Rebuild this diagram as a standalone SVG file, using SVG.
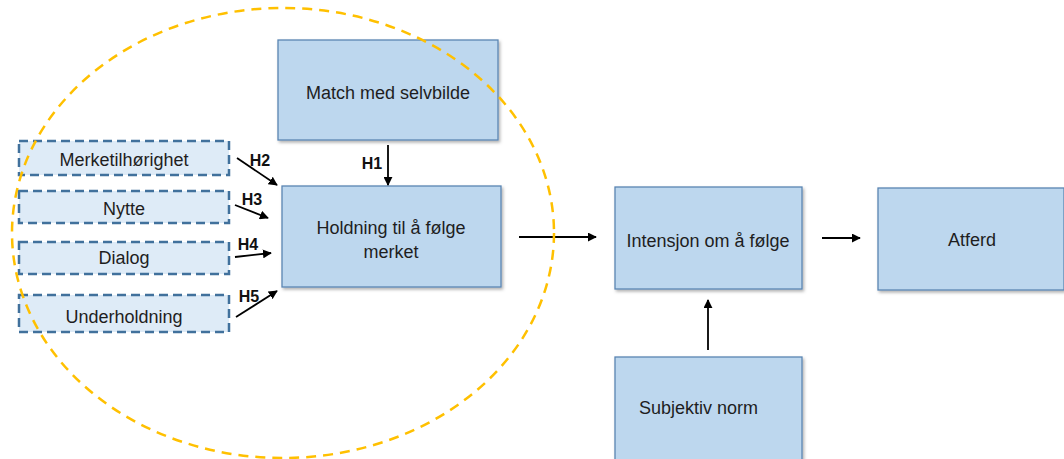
<svg xmlns="http://www.w3.org/2000/svg" width="1064" height="459" viewBox="0 0 1064 459">
<style>
.box{fill:#BDD7EE;stroke:#5B86B3;stroke-width:1.3}
.dbox{fill:#DEEBF7;stroke:#41719C;stroke-width:2.5;stroke-dasharray:9 5}
.t{font-family:"Liberation Sans",Arial,sans-serif;font-size:18px;fill:#1e1e1e;text-anchor:middle}
.h{font-family:"Liberation Sans",Arial,sans-serif;font-size:16px;font-weight:bold;fill:#111;text-anchor:middle}
.c{stroke:#000;stroke-width:1.8;fill:none;marker-end:url(#ah)}
</style>
<defs>
<marker id="ah" viewBox="0 0 10 10" refX="9" refY="5" markerWidth="5" markerHeight="5" orient="auto" markerUnits="strokeWidth">
<path d="M0,0 L10,5 L0,10 z" fill="#000"/>
</marker>
<filter id="sh" x="-5%" y="-5%" width="115%" height="120%">
<feDropShadow dx="1.5" dy="2" stdDeviation="1.5" flood-color="#000" flood-opacity="0.3"/>
</filter>
</defs>
<rect width="1064" height="459" fill="#fff"/>

<g id="match">
<rect class="box" x="278" y="40" width="220" height="100" filter="url(#sh)"/>
<text class="t" x="388" y="99">Match med selvbilde</text>
</g>
<g id="holdning">
<rect class="box" x="282" y="186" width="219" height="101" filter="url(#sh)"/>
<text class="t" x="391" y="234">Holdning til å følge</text>
<text class="t" x="391" y="258">merket</text>
</g>
<g id="intensjon">
<rect class="box" x="615" y="187" width="187" height="102" filter="url(#sh)"/>
<text class="t" x="708" y="247">Intensjon om å følge</text>
</g>
<g id="atferd">
<rect class="box" x="878" y="188" width="186" height="102" filter="url(#sh)"/>
<text class="t" x="972" y="246">Atferd</text>
</g>
<g id="subjektiv">
<rect class="box" x="615" y="357" width="187" height="110" filter="url(#sh)"/>
<text class="t" x="639" y="414" style="text-anchor:start">Subjektiv norm</text>
</g>
<g id="merketilhorighet">
<rect class="dbox" x="19" y="141" width="210" height="34"/>
<text class="t" x="124" y="166">Merketilhørighet</text>
</g>
<g id="nytte">
<rect class="dbox" x="19" y="191" width="210" height="32"/>
<text class="t" x="124" y="215">Nytte</text>
</g>
<g id="dialog">
<rect class="dbox" x="19" y="242" width="210" height="32"/>
<text class="t" x="124" y="264">Dialog</text>
</g>
<g id="underholdning">
<rect class="dbox" x="19" y="295" width="210" height="37"/>
<text class="t" x="124" y="323">Underholdning</text>
</g>

<g id="connectors">
<line class="c" x1="388" y1="145" x2="388" y2="185"/>
<text class="h" x="372" y="169">H1</text>
<line class="c" x1="237" y1="158" x2="277" y2="185"/>
<text class="h" x="260" y="166">H2</text>
<line class="c" x1="235" y1="205" x2="268" y2="218"/>
<text class="h" x="252" y="205">H3</text>
<line class="c" x1="235" y1="257" x2="271" y2="253"/>
<text class="h" x="248" y="250">H4</text>
<line class="c" x1="236" y1="317" x2="277" y2="291"/>
<text class="h" x="249" y="302">H5</text>
<line class="c" x1="519" y1="237" x2="596" y2="237"/>
<line class="c" x1="822" y1="238" x2="860" y2="238"/>
<line class="c" x1="708" y1="350" x2="708" y2="300"/>
</g>

<ellipse cx="283" cy="233" rx="271" ry="225" fill="none" stroke="#FFC000" stroke-width="2.5" stroke-dasharray="10 7"/>
</svg>
